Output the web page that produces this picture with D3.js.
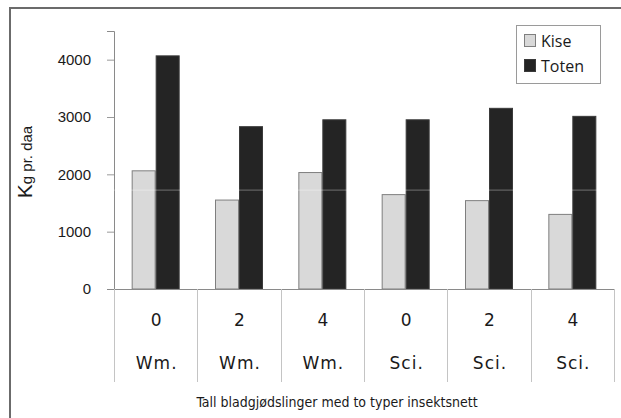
<!DOCTYPE html>
<html>
<head>
<meta charset="utf-8">
<script src="https://cdn.jsdelivr.net/npm/d3@7"></script>
<style>
  html, body { margin: 0; padding: 0; background: #fff; }
  svg { display: block; }
</style>
</head>
<body>
<svg id="chart" width="621" height="418"></svg>
<script>
// Yield in kg per daa for two cabbage fields, by number of foliar feedings and net type
const feedings = ["0", "2", "4", "0", "2", "4"];
const netTypes = ["Wm.", "Wm.", "Wm.", "Sci.", "Sci.", "Sci."];
const series = ["Kise", "Toten"];
const kise = [2070, 1560, 2040, 1655, 1550, 1310];
const toten = [4075, 2840, 2960, 2960, 3160, 3020];
const yTicks = [0, 1000, 2000, 3000, 4000];
const yMax = 4500;
const seamValue = 1725;

const colors = { Kise: "#d9d9d9", Toten: "#242424" };
const strokes = { Kise: "#7f7f7f", Toten: "#3a3a3a" };

const svg = d3.select("#chart");
const plot = { left: 114, right: 614, top: 31, bottom: 289 };

// outer frame (runs off the right and bottom edges)
svg.append("path")
  .attr("d", "M10,430 L10,8 L640,8")
  .attr("fill", "none")
  .attr("stroke", "#6b6b6b")
  .attr("stroke-width", 2);

const idx = d3.range(feedings.length);
const x = d3.scaleBand().domain(idx).range([plot.left, plot.right]).padding(0);
const barW = 24;
const x1 = d3.scaleBand().domain(series)
  .range([(x.bandwidth() - 2 * barW) / 2, (x.bandwidth() + 2 * barW) / 2]);
const y = d3.scaleLinear().domain([0, yMax]).range([plot.bottom, plot.top]);

// y axis
const yAxis = d3.axisLeft(y).tickValues(yTicks).tickSize(7).tickPadding(16).tickFormat(d3.format("d"));
const gy = svg.append("g").attr("transform", `translate(${plot.left},0)`).call(yAxis);
gy.select(".domain").attr("stroke", "#8a8a8a");
gy.selectAll(".tick line").attr("stroke", "#9a9a9a");
gy.selectAll(".tick text")
  .attr("fill", "#1a1a1a")
  .style("font-family", "'Liberation Sans', Arial, sans-serif")
  .style("font-size", "15px");

// bars
const rows = idx.map(i => ({ i, Kise: kise[i], Toten: toten[i] }));
const groups = svg.append("g").selectAll("g").data(rows).join("g")
  .attr("transform", d => `translate(${x(d.i)},0)`);
groups.selectAll("rect")
  .data(d => series.map(s => ({ s, v: d[s] })))
  .join("rect")
  .attr("x", d => x1(d.s) + 0.5)
  .attr("y", d => y(d.v) + 0.5)
  .attr("width", x1.bandwidth() - 1)
  .attr("height", d => y(0) - y(d.v) - 0.5)
  .attr("fill", d => colors[d.s])
  .attr("stroke", d => strokes[d.s])
  .attr("stroke-width", 1);

// faint seam line across the plot
svg.append("line")
  .attr("x1", plot.left).attr("x2", plot.right)
  .attr("y1", y(seamValue)).attr("y2", y(seamValue))
  .attr("stroke", "#ffffff").attr("stroke-opacity", 0.35).attr("stroke-width", 1);

// category axis: baseline and table dividers
const tableBottom = 382;
svg.append("line")
  .attr("x1", plot.left - 7).attr("x2", plot.right)
  .attr("y1", plot.bottom + 0.5).attr("y2", plot.bottom + 0.5)
  .attr("stroke", "#8a8a8a");
svg.append("g").selectAll("line")
  .data(d3.range(feedings.length + 1))
  .join("line")
  .attr("x1", i => Math.round(plot.left + i * x.step()) + 0.5)
  .attr("x2", i => Math.round(plot.left + i * x.step()) + 0.5)
  .attr("y1", plot.bottom)
  .attr("y2", tableBottom)
  .attr("stroke", "#c4c4c4");

const catFont = "'DejaVu Sans', Verdana, sans-serif";
const condFont = "'DejaVu Sans Condensed', 'DejaVu Sans', sans-serif";
[[feedings, 326], [netTypes, 369]].forEach(([labels, yy]) => {
  svg.append("g").selectAll("text")
    .data(idx).join("text")
    .attr("x", i => x(i) + x.bandwidth() / 2 + 1)
    .attr("y", yy)
    .attr("text-anchor", "middle")
    .style("font-family", catFont)
    .style("font-size", "17px")
    .style("letter-spacing", "1px")
    .attr("fill", "#1a1a1a")
    .text(i => labels[i]);
});

// axis titles
svg.append("text")
  .attr("x", 337).attr("y", 407)
  .attr("text-anchor", "middle")
  .style("font-family", condFont)
  .style("font-stretch", "condensed")
  .style("font-size", "14px")
  .attr("fill", "#1a1a1a")
  .text("Tall bladgjødslinger med to typer insektsnett");

const yt = svg.append("text")
  .attr("transform", "translate(32,162) rotate(-90)")
  .attr("text-anchor", "middle")
  .style("font-family", "'Liberation Sans', Arial, sans-serif")
  .attr("fill", "#1a1a1a");
yt.append("tspan").style("font-size", "21px").text("K");
yt.append("tspan").style("font-size", "15px").text("g pr. daa");

// legend
const lg = svg.append("g").attr("transform", "translate(516,25)");
lg.append("rect").attr("x", 0.5).attr("y", 0.5).attr("width", 84).attr("height", 58)
  .attr("fill", "#fff").attr("stroke", "#9a9a9a");
series.forEach((s, i) => {
  const yy = 9 + i * 25;
  lg.append("rect").attr("x", 8.5).attr("y", yy + 0.5).attr("width", 11).attr("height", 12)
    .attr("fill", colors[s]).attr("stroke", strokes[s]);
  lg.append("text").attr("x", 25).attr("y", yy + 13)
    .style("font-family", "'Open Sans', 'Noto Sans', sans-serif")
    .style("font-size", "16px")
    .attr("fill", "#1a1a1a")
    .text(s);
});
</script>
</body>
</html>
